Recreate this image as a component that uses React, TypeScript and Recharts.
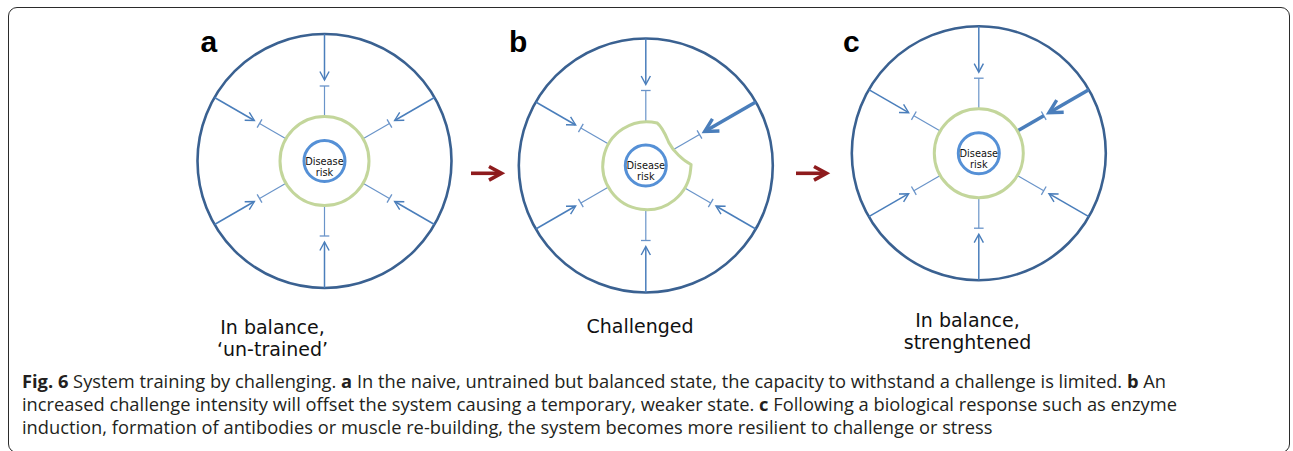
import React from 'react';
import { ScatterChart, Scatter, XAxis, YAxis } from 'recharts';

const W = 1293;
const H = 451;

// the three states of the system and where each diagram sits
const panelIds = ['a', 'b', 'c'];
const panelX = [324.5, 645.8, 978.8];
const panelY = [161, 165.5, 153.2];

// panel letters
const labelX = [200.5, 509, 843];
const labelY = [52, 52, 52.3];

// captions under each diagram
const captionLines = [['In balance,', '\u2018un-trained\u2019'], ['Challenged'], ['In balance,', 'strenghtened']];
const captionX = [272.5, 640, 967.5];
const captionY = [333.5, 332.5, 326.7];

// challenge spokes, degrees counter-clockwise from 3 o'clock
const spokeAngles = [90, 30, -30, -90, -150, 150];
// which spoke carries the increased challenge, per panel
const spokeMode: Record<string, string> = { a: 'normal', b: 'push', c: 'strong' };

// transition arrows a -> b -> c
const stepX = [487, 812];
const stepY = [173.3, 173.3];

// figure legend
const legendLines = [
  [
    { b: true, t: 'Fig. 6' },
    { t: ' System training by challenging. ' },
    { b: true, t: 'a' },
    { t: ' In the naive, untrained but balanced state, the capacity to withstand a challenge is limited. ' },
    { b: true, t: 'b' },
    { t: ' An' },
  ],
  [
    { t: 'increased challenge intensity will offset the system causing a temporary, weaker state. ' },
    { b: true, t: 'c' },
    { t: ' Following a biological response such as enzyme' },
  ],
  [{ t: 'induction, formation of antibodies or muscle re-building, the system becomes more resilient to challenge or stress' }],
];
const legendX = [22, 22, 22];
const legendY = [387.5, 410.5, 433.5];

const R_OUT = 127;
const R_RING = 44.5;
const R_IN = 20.5;

const OUTER = '#3A6191';
const SPOKE = '#4A7EBB';
const SPOKE_IN = '#6A94C9';
const RING = '#C3D69B';
const CORE = '#5590D6';
const RED = '#8E1B1D';

const panels = panelIds.map((id, i) => ({ id, x: panelX[i], y: panelY[i] }));
const labels = panelIds.map((id, i) => ({ id, x: labelX[i], y: labelY[i] }));
const captions = captionLines.map((lines, i) => ({ lines, x: captionX[i], y: captionY[i] }));
const steps = stepX.map((x, i) => ({ x, y: stepY[i] }));
const legend = legendLines.map((parts, i) => ({ parts, x: legendX[i], y: legendY[i] }));

const spoke = (cx: number, cy: number, deg: number, mode: string, key: string) => {
  const a = (deg * Math.PI) / 180;
  const ux = Math.cos(a);
  const uy = -Math.sin(a);
  const nx = -uy;
  const ny = ux;
  const p = (r: number, o = 0) => [cx + ux * r + nx * o, cy + uy * r + ny * o];
  const seg = (r1: number, r2: number, color: string, w: number) => {
    const [x1, y1] = p(r1);
    const [x2, y2] = p(r2);
    return <line x1={x1} y1={y1} x2={x2} y2={y2} stroke={color} strokeWidth={w} />;
  };
  const head = (r: number, len: number, half: number, w: number) => {
    const [tx, ty] = p(r);
    const [ax, ay] = p(r + len, half);
    const [bx, by] = p(r + len, -half);
    return (
      <path
        d={`M${ax},${ay}L${tx},${ty}L${bx},${by}`}
        fill='none'
        stroke={SPOKE}
        strokeWidth={w}
        strokeLinejoin='miter'
      />
    );
  };
  const bar = (r: number) => {
    const [x1, y1] = p(r, 4.8);
    const [x2, y2] = p(r, -4.8);
    return <line x1={x1} y1={y1} x2={x2} y2={y2} stroke={SPOKE_IN} strokeWidth={1.3} />;
  };

  if (mode === 'push') {
    return (
      <g key={key}>
        {seg(R_OUT, 69, SPOKE, 3.6)}
        {head(68, 13, 7, 3.4)}
        {bar(62)}
        {seg(62, 30, SPOKE_IN, 1.2)}
      </g>
    );
  }
  if (mode === 'strong') {
    return (
      <g key={key}>
        {seg(R_OUT, 82, SPOKE, 3.6)}
        {head(81, 13, 7, 3.4)}
        {bar(75)}
        {seg(75, R_RING - 1, SPOKE, 3.6)}
      </g>
    );
  }
  return (
    <g key={key}>
      {seg(R_OUT, 81.5, SPOKE, 1.5)}
      {head(81, 8.5, 4.6, 1.4)}
      {bar(75)}
      {seg(75, R_RING - 1, SPOKE_IN, 1.2)}
    </g>
  );
};

const Panel = (props: any) => {
  const { cx, cy, payload } = props;
  if (cx == null || cy == null) return null;
  const id = payload.id;

  let ring;
  if (id === 'b') {
    // ring with a bite taken out on the challenged side
    const q = (x: number, y: number) => `${cx + x},${cy + y}`;
    const s = (deg: number, r: number) => {
      const a = (deg * Math.PI) / 180;
      return q(r * Math.cos(a), -r * Math.sin(a));
    };
    const d =
      `M${s(75, 44)}` +
      `A44,44 0 1 0 ${s(-5, 45)}` +
      `L${q(45.3, -1)}` +
      `C${q(37, -5)} ${q(27, -15)} ${q(23, -23)}` +
      `C${q(20, -30)} ${q(17, -38)} ${s(75, 44)}Z`;
    ring = <path d={d} fill='white' stroke={RING} strokeWidth={3} strokeLinejoin='round' />;
  } else {
    ring = <circle cx={cx} cy={cy} r={R_RING} fill='white' stroke={RING} strokeWidth={3} />;
  }

  const mode = spokeMode[id];
  return (
    <g>
      <circle cx={cx} cy={cy} r={R_OUT} fill='none' stroke={OUTER} strokeWidth={2.6} />
      {spokeAngles.map((deg, i) => spoke(cx, cy, deg, deg === 30 ? mode : 'normal', `${id}-${i}`))}
      {ring}
      <circle cx={cx} cy={cy} r={R_IN} fill='white' stroke={CORE} strokeWidth={3} />
      <text x={cx} y={cy + 3.5} textAnchor='middle' fontFamily='DejaVu Sans' fontSize={9.8} fill='#111'>
        Disease
      </text>
      <text x={cx} y={cy + 14.5} textAnchor='middle' fontFamily='DejaVu Sans' fontSize={9.8} fill='#111'>
        risk
      </text>
    </g>
  );
};

const Letter = (props: any) => {
  const { cx, cy, payload } = props;
  if (cx == null || cy == null) return null;
  return (
    <text x={cx} y={cy} fontFamily='Liberation Sans' fontWeight='bold' fontSize={30} fill='#000'>
      {payload.id}
    </text>
  );
};

const Caption = (props: any) => {
  const { cx, cy, payload } = props;
  if (cx == null || cy == null) return null;
  return (
    <text textAnchor='middle' fontFamily='DejaVu Sans' fontSize={19} fill='#111'>
      {payload.lines.map((l: string, i: number) => (
        <tspan key={i} x={cx} y={cy + i * 22.5}>
          {l}
        </tspan>
      ))}
    </text>
  );
};

const Step = (props: any) => {
  const { cx, cy } = props;
  if (cx == null || cy == null) return null;
  return (
    <g stroke={RED} fill='none' strokeWidth={3.6}>
      <line x1={cx - 16} y1={cy} x2={cx + 14} y2={cy} />
      <path d={`M${cx + 2},${cy - 6.8}L${cx + 14.5},${cy}L${cx + 2},${cy + 6.8}`} strokeLinejoin='miter' />
    </g>
  );
};

const LegendLine = (props: any) => {
  const { cx, cy, payload } = props;
  if (cx == null || cy == null) return null;
  return (
    <text x={cx} y={cy} fontFamily='Open Sans' fontSize={18.3} fill='#231F20'>
      {payload.parts.map((p: any, i: number) => (
        <tspan key={i} fontWeight={p.b ? 'bold' : 'normal'}>
          {p.t}
        </tspan>
      ))}
    </text>
  );
};

export default function App() {
  return (
    <div style={{ position: 'absolute', left: 0, top: 0, width: W, height: H, background: '#fff' }}>
      <div
        style={{
          position: 'absolute',
          left: 8,
          top: 7,
          width: 1282,
          height: 446,
          border: '1.6px solid #2b2b2b',
          borderRadius: 9,
          boxSizing: 'border-box',
        }}
      />
      <div style={{ position: 'absolute', left: 0, top: 0 }}>
        <ScatterChart width={W} height={H} margin={{ top: 0, right: 0, bottom: 0, left: 0 }}>
          <XAxis type='number' dataKey='x' domain={[0, W]} hide />
          <YAxis type='number' dataKey='y' domain={[0, H]} reversed hide />
          <Scatter data={panels} shape={Panel} isAnimationActive={false} />
          <Scatter data={labels} shape={Letter} isAnimationActive={false} />
          <Scatter data={steps} shape={Step} isAnimationActive={false} />
          <Scatter data={captions} shape={Caption} isAnimationActive={false} />
          <Scatter data={legend} shape={LegendLine} isAnimationActive={false} />
        </ScatterChart>
      </div>
    </div>
  );
}
